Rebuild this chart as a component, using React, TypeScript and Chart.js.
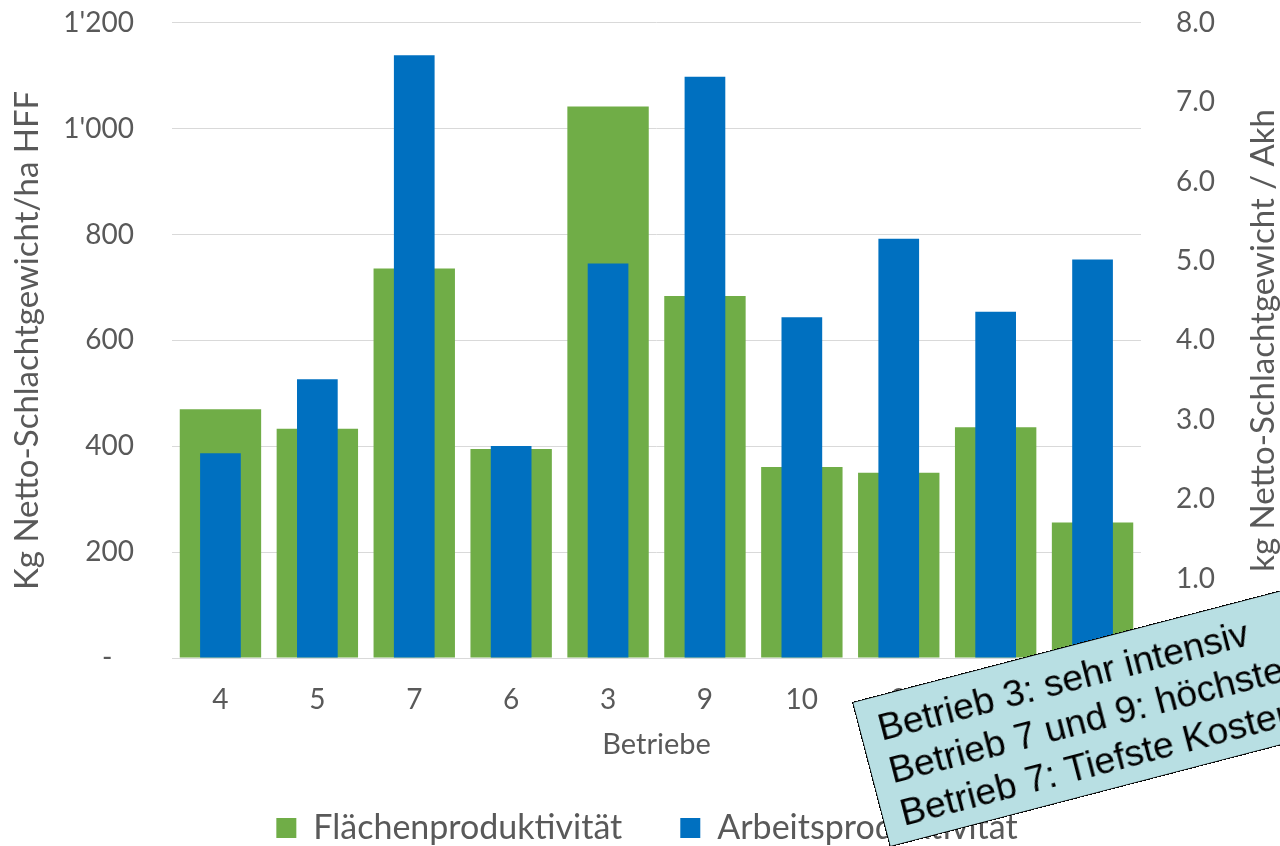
import React, { useEffect, useRef } from "react";
import { Chart, registerables } from "chart.js";

Chart.register(...registerables);

// ---- data ----
const categories = ["4", "5", "7", "6", "3", "9", "10", "8", "1", "2"];
const flaechenproduktivitaet = [470, 433, 736, 395, 1042, 684, 361, 350, 436, 256];
const arbeitsproduktivitaet = [2.58, 3.51, 7.59, 2.67, 4.97, 7.32, 4.29, 5.28, 4.36, 5.02];
const seriesNames = ["Flächenproduktivität", "Arbeitsproduktivität"];
const leftAxisTitle = "Kg Netto-Schlachtgewicht/ha HFF";
const rightAxisTitle = "kg Netto-Schlachtgewicht / Akh";
const xAxisTitle = "Betriebe";
const noteLines = [
  "Betrieb 3: sehr intensiv",
  "Betrieb 7 und 9: höchste Arbeitsproduktivität",
  "Betrieb 7: Tiefste Kosten",
];

const FONT = "Lato, 'Open Sans', sans-serif";
const GREY = "#595959";
const GREEN = "#70AD47";
const BLUE = "#0070C0";

function fmtLeft(v: number): string {
  if (v === 0) return "-   ";
  const s = Math.round(v).toString();
  return s.replace(/\B(?=(\d{3})+(?!\d))/g, "'");
}

const rightTitlePlugin = {
  id: "rightTitle",
  afterDraw(chart: any) {
    const { ctx, chartArea } = chart;
    ctx.save();
    ctx.translate(1263, (chartArea.top + chartArea.bottom) / 2);
    ctx.rotate(-Math.PI / 2);
    ctx.font = `33px ${FONT}`;
    ctx.fillStyle = GREY;
    ctx.textAlign = "center";
    ctx.textBaseline = "middle";
    ctx.fillText(rightAxisTitle, 0, 0);
    ctx.restore();
  },
};

export default function App() {
  const ref = useRef<HTMLCanvasElement>(null);
  useEffect(() => {
    const chart = new Chart(ref.current as HTMLCanvasElement, {
      type: "bar",
      data: {
        labels: categories,
        datasets: [
          {
            label: seriesNames[0],
            data: flaechenproduktivitaet,
            backgroundColor: GREEN,
            yAxisID: "y",
            barPercentage: 0.84,
            categoryPercentage: 1,
            grouped: false,
            order: 2,
          },
          {
            label: seriesNames[1],
            data: arbeitsproduktivitaet,
            backgroundColor: BLUE,
            yAxisID: "y1",
            barPercentage: 0.42,
            categoryPercentage: 1,
            grouped: false,
            order: 1,
          },
        ],
      },
      options: {
        responsive: false,
        animation: false,
        layout: { padding: { top: 20, left: 14, right: 0, bottom: -9 } },
        plugins: {
          tooltip: { enabled: false },
          legend: {
            position: "bottom",
            labels: {
              font: { family: FONT, size: 34 },
              color: GREY,
              boxWidth: 20,
              boxHeight: 20,
              padding: 58,
              sort: (a: any, b: any) => a.datasetIndex - b.datasetIndex,
            },
          },
        },
        scales: {
          x: {
            grid: { display: false, drawTicks: false },
            border: { display: true, color: "#D9D9D9", width: 1 },
            ticks: { color: GREY, font: { family: FONT, size: 28 }, padding: 25 },
            title: {
              display: true,
              text: xAxisTitle,
              color: GREY,
              font: { family: FONT, size: 29 },
              padding: { top: 0, bottom: -9 },
            },
            afterFit: (s: any) => {
              s.height = 95;
            },
          },
          y: {
            position: "left",
            min: 0,
            max: 1200,
            ticks: {
              stepSize: 200,
              color: GREY,
              font: { family: FONT, size: 28 },
              padding: 6,
              callback: (v: any) => fmtLeft(Number(v)),
            },
            grid: {
              color: "#D9D9D9",
              lineWidth: 1,
              drawTicks: true,
              tickLength: 32,
              tickColor: "rgba(0,0,0,0)",
            },
            border: { display: false },
            title: {
              display: true,
              text: leftAxisTitle,
              color: GREY,
              font: { family: FONT, size: 33 },
              padding: { top: -6, bottom: 0 },
            },
            afterFit: (s: any) => {
              s.width = 158;
            },
          },
          y1: {
            position: "right",
            min: 0,
            max: 8,
            ticks: {
              stepSize: 1,
              color: GREY,
              font: { family: FONT, size: 28 },
              padding: 6,
              callback: (v: any) => (Number(v) === 0 ? "-" : Number(v).toFixed(1)),
            },
            grid: {
              drawOnChartArea: false,
              drawTicks: true,
              tickLength: 29,
              tickColor: "rgba(0,0,0,0)",
            },
            border: { display: false },
            afterFit: (s: any) => {
              s.width = 139;
            },
          },
        },
      },
      plugins: [rightTitlePlugin],
    } as any);
    return () => chart.destroy();
  }, []);

  return (
    <div
      style={{
        position: "fixed",
        left: 0,
        top: 0,
        width: 1280,
        height: 846,
        overflow: "hidden",
        background: "#ffffff",
      }}
    >
      <canvas ref={ref} width={1280} height={846} style={{ display: "block" }} />
      <div
        style={{
          position: "absolute",
          left: 852,
          top: 702,
          width: 620,
          height: 150,
          boxSizing: "border-box",
          transform: "rotate(-14.6deg)",
          transformOrigin: "0 0",
          background: "#B8DFE3",
          border: "1.5px solid #000",
          padding: "9px 0 0 18px",
          fontFamily: "'Liberation Sans', Arial, sans-serif",
          fontSize: 37.5,
          lineHeight: "44px",
          color: "#000",
          whiteSpace: "nowrap",
        }}
      >
        {noteLines.map((l, i) => (
          <div key={i}>{l}</div>
        ))}
      </div>
    </div>
  );
}
